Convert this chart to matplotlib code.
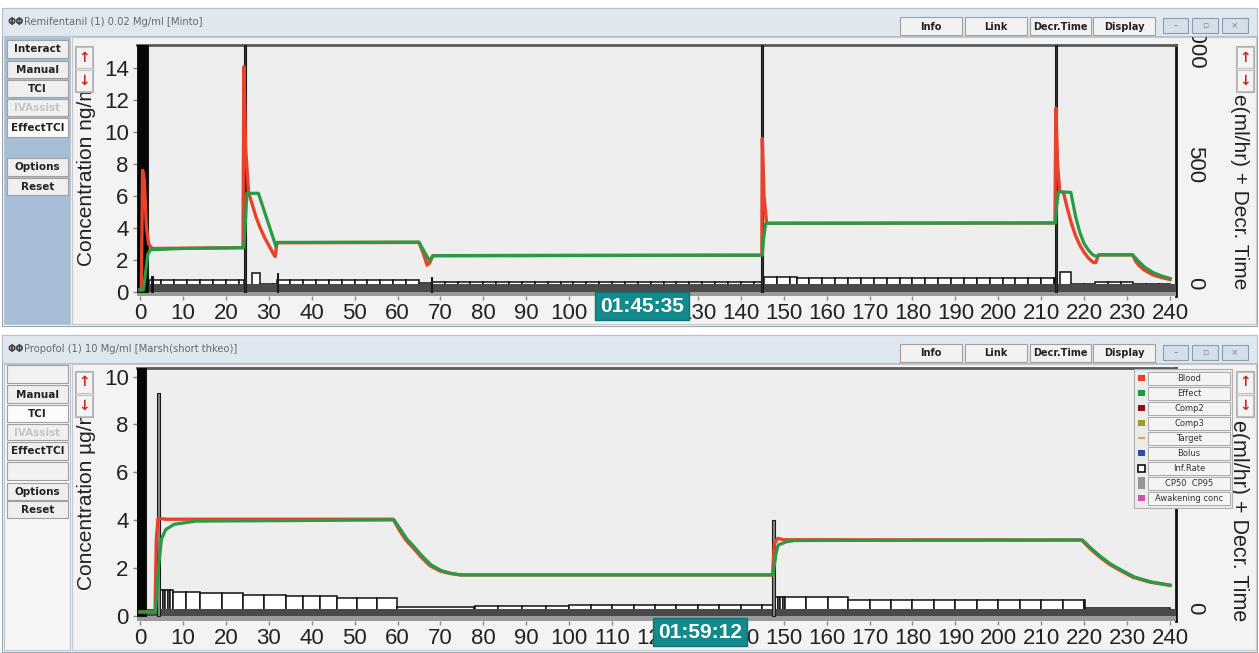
import matplotlib
matplotlib.use('Agg')
import matplotlib.pyplot as plt
import numpy as np
from matplotlib.patches import Rectangle

plt.rcParams['font.family'] = ['Liberation Sans', 'DejaVu Sans']

# ---------------- data ----------------
# Remifentanil panel: time (min) vs concentration (ng/ml)
remi_blood_t = [0, 0.3, 0.6, 1.0, 1.5, 2.0, 2.6, 3.2,
                24.0, 24.2, 24.6, 25.3, 26.0, 27.0, 28.0, 29.0, 30.0, 31.0, 31.5, 31.9,
                65.0, 66.0, 66.9, 67.5, 68.2,
                144.9, 145.0, 145.4, 146.0, 146.6,
                213.2, 213.4, 213.8, 214.3, 215.2, 216.0, 217.0, 218.0, 219.0, 220.0, 221.0, 222.0, 222.7, 223.3,
                231.3, 232.0, 232.7, 234.0, 236.0, 238.0, 240.0]
remi_blood_c = [0.1, 0.1, 7.6, 7.0, 4.0, 3.0, 2.75, 2.7,
                2.75, 14.1, 9.0, 6.2, 5.6, 4.7, 4.0, 3.4, 2.9, 2.4, 2.2, 3.06,
                3.08, 2.4, 1.66, 1.8, 2.25,
                2.28, 9.6, 6.0, 4.3, 4.28,
                4.3, 11.5, 8.0, 6.3, 6.2, 5.3, 4.3, 3.5, 2.9, 2.45, 2.1, 1.85, 1.81, 2.3,
                2.3, 1.9, 1.66, 1.35, 1.05, 0.88, 0.76]
remi_effect_t = [0, 0.8, 1.3, 1.8, 2.4, 10.0, 24.2, 24.6, 24.9, 27.6, 28.5, 29.5, 30.5, 31.7, 32.0,
                 65.0, 67.4, 68.4, 145.0, 145.3, 145.8, 213.3, 213.6, 214.0, 216.9,
                 218.0, 219.0, 220.0, 221.0, 222.0, 223.1, 223.5, 231.3, 232.5, 234.0, 236.0, 238.0, 240.0]
remi_effect_c = [0.1, 0.1, 1.2, 2.3, 2.62, 2.7, 2.75, 4.6, 6.16, 6.16, 5.42, 4.6, 3.79, 2.81, 3.08,
                 3.1, 1.95, 2.25, 2.28, 3.3, 4.28, 4.3, 5.4, 6.26, 6.22,
                 4.7, 3.7, 3.0, 2.6, 2.3, 2.18, 2.3, 2.3, 1.95, 1.55, 1.2, 0.98, 0.82]
remi_inf_start = [2.0, 26.0, 28.0, 32.0, 65.0, 68.0, 145.5, 153.0, 214.3, 216.9, 222.5, 231.4]
remi_inf_end = [24.3, 28.0, 32.0, 65.0, 67.8, 145.0, 153.0, 213.3, 216.9, 222.5, 231.4, 240.0]
remi_inf_level = [0.72, 1.18, 0.5, 0.72, 0.55, 0.62, 0.93, 0.83, 1.2, 0.5, 0.58, 0.45]
remi_bolus_t = [0.6, 24.4, 145.0, 213.4, 2.8, 32.0, 67.9]
remi_bolus_h = [15.5, 15.5, 15.5, 15.5, 0.95, 1.15, 0.9]

# Propofol panel: time (min) vs concentration (ug/ml)
prop_blood_t = [0, 3.5, 3.8, 4.2, 6.0, 59.0, 60.5, 62.0, 63.7, 65.5, 67.6, 70.0, 72.2, 74.5,
                147.4, 147.8, 148.6, 150.0, 219.4, 221.5, 223.7, 226.0, 228.5, 231.4, 235.3, 240.0]
prop_blood_c = [0.15, 0.15, 3.2, 4.07, 4.03, 4.03, 3.55, 3.15, 2.82, 2.45, 2.08, 1.86, 1.76, 1.70,
                1.70, 3.0, 3.23, 3.17, 3.16, 2.78, 2.44, 2.13, 1.88, 1.60, 1.40, 1.26]
prop_effect_t = [0, 3.6, 4.2, 5.0, 6.0, 8.0, 13.0, 59.2, 60.7, 62.2, 63.9, 65.7, 67.8, 70.2, 72.4, 74.7,
                 147.5, 148.2, 148.7, 150.5, 152.6, 219.6, 221.7, 223.9, 226.2, 228.7, 231.6, 235.5, 240.0]
prop_effect_c = [0.15, 0.15, 1.8, 3.2, 3.6, 3.82, 3.95, 4.0, 3.6, 3.2, 2.87, 2.5, 2.12, 1.88, 1.77, 1.70,
                 1.70, 2.6, 2.95, 3.08, 3.14, 3.16, 2.8, 2.46, 2.15, 1.9, 1.62, 1.41, 1.27]
prop_inf_start = [4.7, 7.6, 14.0, 24.0, 34.0, 46.0, 59.8, 78.0, 100.0, 148.0, 150.3, 165.0, 220.2]
prop_inf_end = [7.6, 14.0, 24.0, 34.0, 46.0, 59.8, 78.0, 100.0, 147.6, 150.3, 165.0, 220.2, 240.0]
prop_inf_level = [1.07, 1.0, 0.93, 0.86, 0.8, 0.75, 0.34, 0.4, 0.45, 0.79, 0.76, 0.66, 0.3]
prop_bolus_t = [0.3, 4.3, 147.6]
prop_bolus_h = [10.4, 9.3, 4.0]

legend_names = ['Blood', 'Effect', 'Comp2', 'Comp3', 'Target', 'Bolus', 'Inf.Rate', 'CP50  CP95', 'Awakening conc']
legend_colors = ['#e8412c', '#1f9a45', '#8a1616', '#a09a2c', '#e8a040', '#2c4f9e', 'white', '#959595', '#d050b0']

RED = '#e8412c'
GREEN = '#2a9a44'

# ---------------- figure helpers (pixel coords, origin top-left) ----------------
W, H = 1259, 653
fig = plt.figure(figsize=(W / 100, H / 100), dpi=100, facecolor='white')


def fx(x):
    return x / W


def fy(y):
    return 1 - y / H


def rect(x0, y0, x1, y1, fc, ec='none', lw=0.8, z=-2):
    fig.add_artist(Rectangle((fx(x0), fy(y1)), (x1 - x0) / W, (y1 - y0) / H,
                             transform=fig.transFigure, facecolor=fc, edgecolor=ec, lw=lw, zorder=z))


def label(x, y, s, z=-1, **kw):
    return fig.text(fx(x), fy(y), s, zorder=z, **kw)


def button(x0, y0, x1, y1, s, fc='#efefef', color='#222222', size=7.5, z=-1):
    rect(x0, y0, x1, y1, fc, ec='#a0a0a0', z=z)
    if s:
        label((x0 + x1) / 2, (y0 + y1) / 2 + 0.5, s, z=z, ha='center', va='center', fontsize=size,
              fontweight='bold', color=color, family='DejaVu Sans')


def window(y0, y1, title, side_fc):
    rect(2, y0, 1257, y1, '#f4f4f4', ec='#9aa6b2', z=-3)
    rect(2, y0, 1257, y0 + 28, '#dfe7ef', ec='#b5c2ce', z=4)
    label(8, y0 + 14, 'ΦΦ', z=4, ha='left', va='center', fontsize=7, fontweight='bold', color='#444444',
          family='DejaVu Sans')
    label(24, y0 + 14, title, z=4, ha='left', va='center', fontsize=7.2, color='#6a6a6a', family='DejaVu Sans')
    for x0, x1, s in [(900, 962, 'Info'), (965, 1027, 'Link'), (1030, 1091, 'Decr.Time'), (1093, 1155, 'Display')]:
        button(x0, y0 + 9, x1, y0 + 27, s, fc='#f2f2f2', size=7, z=4)
    for x0, x1, s in [(1163, 1188, '–'), (1192, 1218, '▫'), (1222, 1248, '×')]:
        rect(x0, y0 + 10, x1, y0 + 25, '#d4dfe9', ec='#8d9cab', z=4)
        label((x0 + x1) / 2, y0 + 17.5, s, z=4, ha='center', va='center', fontsize=6.5, color='#7a8896',
              family='DejaVu Sans')
    rect(4, y0 + 29, 70, y1 - 2, side_fc, ec='#b9c6d2', z=-2)
    rect(72, y0 + 29, 1256, y1 - 2, '#f3f3f3', ec='#c8c8c8', z=-2)


def arrows(x0, y0):
    rect(x0, y0, x0 + 18, y0 + 46, '#eeeeee', ec='#b0b0b0', z=4)
    rect(x0 + 1, y0 + 1, x0 + 17, y0 + 22, '#f4f4f4', ec='#c0c0c0', z=4)
    rect(x0 + 1, y0 + 24, x0 + 17, y0 + 45, '#f4f4f4', ec='#c0c0c0', z=4)
    label(x0 + 9, y0 + 11.5, '↑', z=5, ha='center', va='center', fontsize=10, fontweight='bold',
          color='#cc2a1a', family='DejaVu Sans')
    label(x0 + 9, y0 + 34.5, '↓', z=5, ha='center', va='center', fontsize=10, fontweight='bold',
          color='#cc2a1a', family='DejaVu Sans')


def draw_panel(ax, blood_t, blood_c, eff_t, eff_c, inf_s, inf_e, inf_l, inf_step,
               bol_t, bol_h, bol_w, bol_fc, floor_top, ylo, yhi, yticks):
    ax.set_facecolor('#eeeeee')
    ax.set_xlim(-0.7, 241.4)
    ax.set_ylim(ylo, yhi)
    # infusion-rate bars, divided like the pump's grid
    for s, e, lev, st in zip(inf_s, inf_e, inf_l, inf_step):
        edges = list(np.arange(s, e, st)) + [e]
        lefts = edges[:-1]
        widths = np.diff(edges)
        ax.bar(lefts, [lev] * len(lefts), width=widths, align='edge', color='white',
               edgecolor='#111111', lw=1.1, zorder=2)
    # floor
    ax.axhspan(ylo, 0, color='#9a9a9a', zorder=3, lw=0)
    ax.axhspan(0, floor_top, color='#4a4a4a', zorder=3, lw=0)
    # bolus markers
    ax.bar(bol_t, bol_h, width=bol_w, color=bol_fc, edgecolor='#1a1a1a', lw=0.8, zorder=4)
    # concentrations
    ax.plot(blood_t, blood_c, color=RED, lw=2.4, zorder=5, solid_joinstyle='round')
    ax.plot(eff_t, eff_c, color=GREEN, lw=2.3, zorder=6, solid_joinstyle='round')
    ax.set_yticks(yticks)
    ax.set_xticks(range(0, 241, 10))
    ax.tick_params(axis='both', labelsize=16, colors='#222222', length=3, width=1, pad=2)
    ax.tick_params(axis='y', pad=3, color='#888888')
    ax.tick_params(axis='x', color='#888888')
    for side in ['left', 'bottom']:
        ax.spines[side].set_visible(False)
    ax.spines['top'].set_color('#5a5a5a')
    ax.spines['top'].set_linewidth(2)
    ax.spines['right'].set_color('#111111')
    ax.spines['right'].set_linewidth(2)


def add_twin(ax, ticks, labels):
    tw = ax.twinx()
    tw.set_ylim(-54, 1000)
    tw.set_yticks(ticks)
    tw.set_yticklabels(labels, rotation=-90, va='center')
    tw.tick_params(axis='y', length=0, labelsize=16, pad=6, colors='#222222')
    for side in tw.spines:
        tw.spines[side].set_visible(False)
    return tw


# ---------------- top window: Remifentanil ----------------
window(8, 326, 'Remifentanil (1) 0.02 Mg/ml [Minto]', '#a6bfd7')
for y0, y1, s, fc, col in [(40, 58, 'Interact', '#efefef', '#222222'),
                           (61, 78, 'Manual', '#efefef', '#222222'),
                           (80, 97, 'TCI', '#efefef', '#222222'),
                           (99, 116, 'IVAssist', '#f0f0f0', '#c4c4c4'),
                           (118, 137, 'EffectTCI', '#fbfbfb', '#222222'),
                           (158, 176, 'Options', '#efefef', '#222222'),
                           (178, 195, 'Reset', '#efefef', '#222222')]:
    button(7, y0, 68, y1, s, fc=fc, color=col)

ax1 = fig.add_axes([fx(137), fy(296), (1176 - 137) / W, (296 - 45) / H])
draw_panel(ax1, remi_blood_t, remi_blood_c, remi_effect_t, remi_effect_c,
           remi_inf_start, remi_inf_end, remi_inf_level, [3.0] * len(remi_inf_start),
           remi_bolus_t, remi_bolus_h, [2.6, 0.5, 0.5, 0.5, 0.35, 0.35, 0.35],
           ['#050505', '#333333', '#333333', '#333333', '#111111', '#111111', '#111111'],
           0.45, -0.28, 15.46, range(0, 15, 2))
add_twin(ax1, [0, 500, 1000], ['0', '500', '1000'])

label(86, 172, 'Concentration ng/ml', z=1, rotation=90, ha='center', va='center', fontsize=15, color='#222222')
label(1239, 94, 'e(ml/hr) + Decr. Time', z=1, rotation=270, ha='center', va='top', fontsize=15, color='#222222')
arrows(75, 46)
arrows(1236, 46)
label(642, 306, '01:45:35', z=6, ha='center', va='center', fontsize=15, fontweight='bold', color='white',
      bbox=dict(boxstyle='square,pad=0.22', facecolor='#138a8b', edgecolor='#0f7475'))

# ---------------- bottom window: Propofol ----------------
window(335, 652, 'Propofol (1) 10 Mg/ml [Marsh(short thkeo)]', '#f6f6f6')
for y0, y1, s, fc, col in [(365, 383, '', '#f2f2f2', '#222222'),
                           (385, 403, 'Manual', '#efefef', '#222222'),
                           (405, 422, 'TCI', '#fbfbfb', '#222222'),
                           (424, 440, 'IVAssist', '#f0f0f0', '#c4c4c4'),
                           (442, 460, 'EffectTCI', '#efefef', '#222222'),
                           (462, 480, '', '#f2f2f2', '#222222'),
                           (483, 500, 'Options', '#efefef', '#222222'),
                           (501, 518, 'Reset', '#efefef', '#222222')]:
    button(7, y0, 68, y1, s, fc=fc, color=col)

ax2 = fig.add_axes([fx(137), fy(621), (1176 - 137) / W, (621 - 368) / H])
draw_panel(ax2, prop_blood_t, prop_blood_c, prop_effect_t, prop_effect_c,
           prop_inf_start, prop_inf_end, prop_inf_level, [0.6, 3.2, 5.0, 5.0, 4.0, 4.6, 18, 5.5, 5.0, 0.6, 5.0, 5.0, 20],
           prop_bolus_t, prop_bolus_h, [2.4, 0.6, 0.6], ['#050505', '#8a8a8a', '#8a8a8a'],
           0.26, -0.23, 10.36, range(0, 11, 2))
add_twin(ax2, [0], ['0'])

label(86, 496, 'Concentration µg/ml', z=1, rotation=90, ha='center', va='center', fontsize=15, color='#222222')
label(1239, 420, 'e(ml/hr) + Decr. Time', z=1, rotation=270, ha='center', va='top', fontsize=15.5, color='#222222')
arrows(75, 371)
arrows(1236, 371)
label(700, 632, '01:59:12', z=6, ha='center', va='center', fontsize=15, fontweight='bold', color='white',
      bbox=dict(boxstyle='square,pad=0.22', facecolor='#138a8b', edgecolor='#0f7475'))

# legend of the propofol panel
rect(1134, 369, 1232, 508, '#ebebeb', ec='#b0b0b0', z=4)
for i, (name, col) in enumerate(zip(legend_names, legend_colors)):
    yc = 378 + i * 15
    rect(1148, yc - 6.5, 1230, yc + 6.5, '#f4f4f4', ec='#a8a8a8', lw=0.7, z=4)
    label(1189, yc + 0.5, name, z=5, ha='center', va='center', fontsize=6, color='#333333', family='DejaVu Sans')
    if name == 'Target':
        rect(1138, yc - 0.6, 1145, yc + 0.6, col, z=5)
    elif name == 'Inf.Rate':
        rect(1138, yc - 3.5, 1145, yc + 3.5, 'white', ec='#111111', lw=1.2, z=5)
    elif name.startswith('CP50'):
        rect(1138, yc - 6, 1145, yc + 6, col, z=5)
    else:
        rect(1138, yc - 3, 1145, yc + 3, col, z=5)

fig.savefig('out.png', dpi=100, facecolor=fig.get_facecolor())
